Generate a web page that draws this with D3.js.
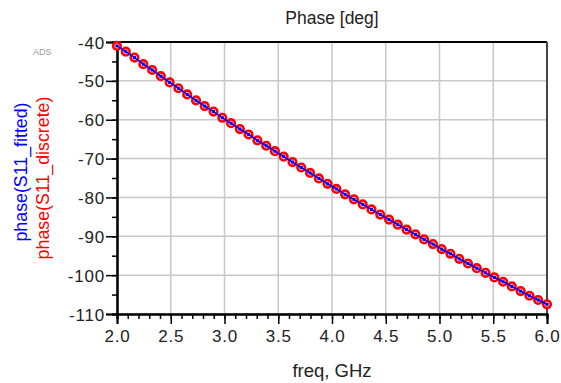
<!DOCTYPE html>
<html>
<head>
<meta charset="utf-8">
<script src="https://cdn.jsdelivr.net/npm/d3@7"></script>
<style>
  body { margin: 0; background: #fff; }
  svg text { font-family: "Liberation Sans", Arial, sans-serif; }
</style>
</head>
<body>
<div id="viz"></div>
<script>
// frequency points (GHz)
const freq = [2.000, 2.082, 2.163, 2.245, 2.327, 2.408, 2.490, 2.571, 2.653, 2.735,
              2.816, 2.898, 2.980, 3.061, 3.143, 3.224, 3.306, 3.388, 3.469, 3.551,
              3.633, 3.714, 3.796, 3.878, 3.959, 4.041, 4.122, 4.204, 4.286, 4.367,
              4.449, 4.531, 4.612, 4.694, 4.776, 4.857, 4.939, 5.020, 5.102, 5.184,
              5.265, 5.347, 5.429, 5.510, 5.592, 5.673, 5.755, 5.837, 5.918, 6.000];

// phase(S11_discrete) in degrees
const phaseDiscrete = [-41.0, -42.5, -44.0, -45.7, -47.2, -48.8, -50.4, -51.9, -53.5, -55.0,
                       -56.5, -57.9, -59.5, -60.9, -62.4, -63.8, -65.3, -66.7, -68.1, -69.5,
                       -70.9, -72.3, -73.7, -75.1, -76.5, -77.8, -79.2, -80.5, -81.8, -83.1,
                       -84.4, -85.7, -87.0, -88.3, -89.5, -90.8, -92.0, -93.3, -94.5, -95.8,
                       -97.0, -98.2, -99.4, -100.6, -101.7, -102.9, -104.1, -105.3, -106.4, -107.5];

// phase(S11_fitted) in degrees
const phaseFitted = [-41.0, -42.5, -44.0, -45.7, -47.2, -48.8, -50.4, -51.9, -53.5, -55.0,
                     -56.5, -57.9, -59.5, -60.9, -62.4, -63.8, -65.3, -66.7, -68.1, -69.5,
                     -70.9, -72.3, -73.7, -75.1, -76.5, -77.8, -79.2, -80.5, -81.8, -83.1,
                     -84.4, -85.7, -87.0, -88.3, -89.5, -90.8, -92.0, -93.3, -94.5, -95.8,
                     -97.0, -98.2, -99.4, -100.6, -101.7, -102.9, -104.1, -105.3, -106.4, -107.5];

const xTicks = [2.0, 2.5, 3.0, 3.5, 4.0, 4.5, 5.0, 5.5, 6.0];
const yTicks = [-40, -50, -60, -70, -80, -90, -100, -110];

const width = 561, height = 383;
const margin = { left: 117, right: 14, top: 42, bottom: 69 };

const svg = d3.select("#viz")
    .append("svg")
    .attr("width", width)
    .attr("height", height);

// scales
const xScale = d3.scaleLinear()
    .domain([2, 6])
    .range([margin.left, width - margin.right]);

const yScale = d3.scaleLinear()
    .domain([-110, -40])
    .range([height - margin.bottom, margin.top]);

// grid lines
svg.append("g")
    .selectAll("line.vg")
    .data(xTicks)
    .join("line")
    .attr("x1", d => xScale(d)).attr("x2", d => xScale(d))
    .attr("y1", yScale(-40)).attr("y2", yScale(-110))
    .attr("stroke", "#c8c8c8").attr("stroke-width", 1.5);

svg.append("g")
    .selectAll("line.hg")
    .data(yTicks)
    .join("line")
    .attr("x1", xScale(2)).attr("x2", xScale(6))
    .attr("y1", d => yScale(d)).attr("y2", d => yScale(d))
    .attr("stroke", "#c8c8c8").attr("stroke-width", 1.5);

// frame top and right
svg.append("line")
    .attr("x1", xScale(2)).attr("x2", xScale(6))
    .attr("y1", yScale(-40)).attr("y2", yScale(-40))
    .attr("stroke", "#000").attr("stroke-width", 2);
svg.append("line")
    .attr("x1", xScale(6)).attr("x2", xScale(6))
    .attr("y1", yScale(-40)).attr("y2", yScale(-110))
    .attr("stroke", "#444").attr("stroke-width", 2);

// minor ticks
const xMinor = d3.axisBottom(xScale)
    .tickValues(d3.range(20, 61).map(d => d / 10))
    .tickSize(5).tickFormat("");
const yMinor = d3.axisLeft(yScale)
    .tickValues(d3.range(-110, -39, 5))
    .tickSize(5).tickFormat("");

svg.append("g").attr("transform", `translate(0,${yScale(-110)})`).call(xMinor);
svg.append("g").attr("transform", `translate(${xScale(2)},0)`).call(yMinor);

// major axes
const xAxis = d3.axisBottom(xScale)
    .tickValues(xTicks).tickSize(10).tickPadding(6)
    .tickFormat(d3.format(".1f"));
const yAxis = d3.axisLeft(yScale)
    .tickValues(yTicks).tickSize(11).tickPadding(1)
    .tickFormat(d => d);

const gx = svg.append("g").attr("transform", `translate(0,${yScale(-110)})`).call(xAxis);
const gy = svg.append("g").attr("transform", `translate(${xScale(2)},0)`).call(yAxis);

svg.selectAll(".domain").attr("stroke", "#000").attr("stroke-width", 2);
svg.selectAll(".tick line").attr("stroke", "#000").attr("stroke-width", 1.5);
gx.selectAll("text").attr("font-size", 17).attr("fill", "#222")
    .attr("letter-spacing", 0.8)
    .attr("font-family", "Liberation Sans, Arial, sans-serif");
gy.selectAll("text").attr("font-size", 17).attr("fill", "#222")
    .attr("letter-spacing", 0.8)
    .attr("font-family", "Liberation Sans, Arial, sans-serif")
    .attr("dy", "0.36em");

// discrete markers
svg.append("g")
    .selectAll("circle")
    .data(freq)
    .join("circle")
    .attr("cx", d => xScale(d))
    .attr("cy", (d, i) => yScale(phaseDiscrete[i]))
    .attr("r", 3.8)
    .attr("fill", "#ffd0d0")
    .attr("stroke", "#ff0000")
    .attr("stroke-width", 2.6);

// fitted line
const line = d3.line()
    .x(d => xScale(d[0]))
    .y(d => yScale(d[1]));

const fitted = freq.map((f, i) => [f, phaseFitted[i]]);

svg.append("path")
    .datum(fitted)
    .attr("fill", "none")
    .attr("stroke", "#0000ff")
    .attr("stroke-width", 1.5)
    .attr("d", line);

svg.append("g")
    .selectAll("rect")
    .data(fitted)
    .join("rect")
    .attr("x", d => xScale(d[0]) - 1.5)
    .attr("y", d => yScale(d[1]) - 1.5)
    .attr("width", 3).attr("height", 3)
    .attr("fill", "#0000ff");

// titles
svg.append("text")
    .attr("x", (xScale(2) + xScale(6)) / 2)
    .attr("y", 24)
    .attr("text-anchor", "middle")
    .attr("font-size", 17.5)
    .attr("fill", "#222")
    .text("Phase [deg]");

svg.append("text")
    .attr("x", (xScale(2) + xScale(6)) / 2)
    .attr("y", 377)
    .attr("text-anchor", "middle")
    .attr("font-size", 18.5)
    .attr("fill", "#222")
    .text("freq, GHz");

svg.append("text")
    .attr("x", 33).attr("y", 55)
    .attr("font-size", 9)
    .attr("fill", "#999")
    .text("ADS");

svg.append("text")
    .attr("transform", "translate(27,172) rotate(-90)")
    .attr("text-anchor", "middle")
    .attr("font-size", 17.8)
    .attr("fill", "#0000ff")
    .text("phase(S11_fitted)");

svg.append("text")
    .attr("transform", "translate(49,178) rotate(-90)")
    .attr("text-anchor", "middle")
    .attr("font-size", 17.8)
    .attr("fill", "#ff0000")
    .text("phase(S11_discrete)");
</script>
</body>
</html>
